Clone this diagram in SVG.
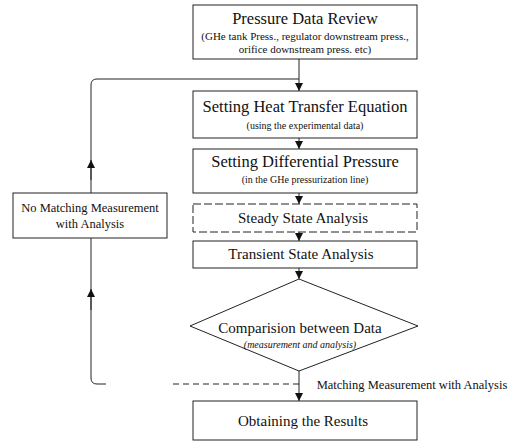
<svg xmlns="http://www.w3.org/2000/svg" width="514" height="443" viewBox="0 0 514 443">
<defs>
<style>
.box{fill:#fff;stroke:#222;stroke-width:1}
.ln{fill:none;stroke:#222;stroke-width:1}
.t{font-family:"Liberation Serif","Times New Roman",serif;fill:#111;text-anchor:middle}
.h{font-size:15px}
.H{font-size:16.5px}
.s{font-size:10px}
.m{font-size:12.5px}
</style>
<marker id="ah" viewBox="0 0 10 10" refX="10" refY="5" markerWidth="8" markerHeight="8" orient="auto" markerUnits="userSpaceOnUse">
<path d="M0,0 L10,5 L0,10 z" fill="#111"/>
</marker>
</defs>
<g id="connectors">
<line class="ln" x1="299" y1="59" x2="299" y2="91" marker-end="url(#ah)"/>
<line class="ln" x1="299" y1="138" x2="299" y2="149" marker-end="url(#ah)"/>
<line class="ln" x1="299" y1="193" x2="299" y2="204" marker-end="url(#ah)"/>
<line class="ln" x1="299" y1="232" x2="299" y2="241" marker-end="url(#ah)"/>
<line class="ln" x1="299" y1="268" x2="299" y2="279" marker-end="url(#ah)"/>
<line class="ln" x1="299" y1="371" x2="299" y2="401" marker-end="url(#ah)"/>
<path class="ln" d="M299,384 H170" stroke-dasharray="6,4"/>
<path class="ln" d="M106,384 H97 Q91,384 91,378 V238"/>
<path class="ln" d="M91,310 V289" marker-end="url(#ah)"/>
<path class="ln" d="M91,193 V85 Q91,79 97,79 H299"/>
<path class="ln" d="M91,180 V160" marker-end="url(#ah)"/>
<text class="t m" x="412" y="389">Matching Measurement with Analysis</text>
</g>
<g id="n1">
<rect class="box" x="193" y="5" width="224" height="54"/>
<text class="t H" x="305" y="24">Pressure Data Review</text>
<text class="t" font-size="11" x="305" y="40">(GHe tank Press., regulator downstream press.,</text>
<text class="t" font-size="11" x="305" y="53">orifice downstream press. etc)</text>
</g>
<g id="n2">
<rect class="box" x="193" y="91" width="224" height="47"/>
<text class="t H" x="305" y="112">Setting Heat Transfer Equation</text>
<text class="t s" x="305" y="129">(using the experimental data)</text>
</g>
<g id="n3">
<rect class="box" x="193" y="149" width="224" height="44"/>
<text class="t H" x="305" y="167">Setting Differential Pressure</text>
<text class="t s" x="305" y="183">(in the GHe pressurization line)</text>
</g>
<g id="n4">
<rect class="box" x="193" y="204" width="224" height="28" stroke-dasharray="8,3"/>
<text class="t h" x="303" y="223">Steady State Analysis</text>
</g>
<g id="n5">
<rect class="box" x="193" y="241" width="224" height="27"/>
<text class="t h" x="301" y="259">Transient State Analysis</text>
</g>
<g id="n6">
<polygon class="box" points="299,279 418,326 299,371 190,326"/>
<text class="t h" x="300" y="333">Comparision between Data</text>
<text class="t s" x="300" y="348" font-style="italic">(measurement and analysis)</text>
</g>
<g id="n7">
<rect class="box" x="193" y="401" width="224" height="39"/>
<text class="t h" x="303" y="426">Obtaining the Results</text>
</g>
<g id="n8">
<rect class="box" x="13" y="193" width="154" height="45"/>
<text class="t m" x="90" y="212">No Matching Measurement</text>
<text class="t m" x="90" y="228">with Analysis</text>
</g>
</svg>
